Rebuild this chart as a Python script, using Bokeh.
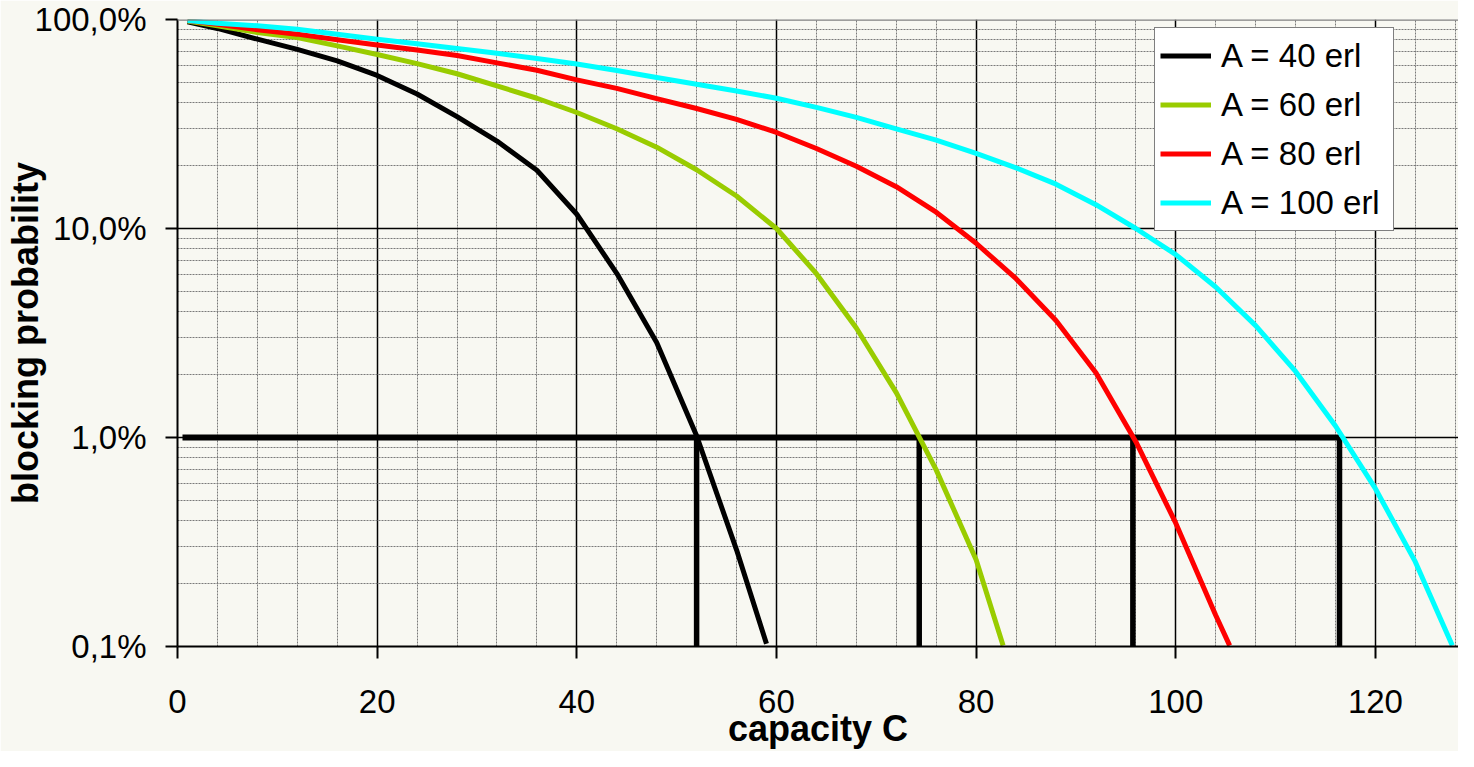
from bokeh.plotting import figure
from bokeh.models import Range1d, FixedTicker, CustomJSTickFormatter, Span
from bokeh.embed import file_html
from bokeh.resources import INLINE

# ---------------- data ----------------
cap_40 = [1, 4, 8, 12, 16, 20, 24, 28, 32, 36, 40, 44, 48, 52, 56, 59]
blk_40 = [0.976, 0.906, 0.805, 0.72, 0.634, 0.54, 0.44, 0.343, 0.262, 0.19,
          0.117, 0.061, 0.0285, 0.0102, 0.0029, 0.00103]

cap_60 = [1, 4, 8, 12, 16, 20, 24, 28, 32, 36, 40, 44, 48, 52, 56, 60, 64,
          68, 72, 76, 80, 82.7]
blk_60 = [0.984, 0.934, 0.866, 0.82, 0.748, 0.68, 0.615, 0.55, 0.481, 0.42,
          0.359, 0.30, 0.245, 0.191, 0.143, 0.100, 0.0608, 0.0334, 0.0164,
          0.0070, 0.0026, 0.00101]

cap_80 = [1, 4, 8, 12, 16, 20, 24, 28, 32, 36, 40, 44, 48, 52, 56, 60, 64,
          68, 72, 76, 80, 84, 88, 92, 96, 100, 104, 105.4]
blk_80 = [0.988, 0.95, 0.893, 0.851, 0.80, 0.755, 0.715, 0.672, 0.62, 0.572,
          0.514, 0.468, 0.418, 0.375, 0.333, 0.288, 0.2415, 0.1986, 0.1585,
          0.1197, 0.085, 0.0575, 0.0363, 0.0204, 0.00955, 0.00389, 0.00141,
          0.00101]

cap_100 = [1, 4, 8, 12, 16, 20, 24, 28, 32, 36, 40, 44, 48, 52, 56, 60, 64,
           68, 72, 76, 80, 84, 88, 92, 96, 100, 104, 108, 112, 116, 120, 124,
           127.7]
blk_100 = [0.99, 0.96, 0.933, 0.899, 0.85, 0.805, 0.765, 0.727, 0.69, 0.65,
           0.612, 0.57, 0.528, 0.49, 0.455, 0.42, 0.38, 0.34, 0.30, 0.265,
           0.229, 0.195, 0.163, 0.13, 0.10, 0.075, 0.0525, 0.0343, 0.0207,
           0.01135, 0.00569, 0.00254, 0.00101]

series_names = ["A = 40 erl", "A = 60 erl", "A = 80 erl", "A = 100 erl"]
series_colors = ["#000000", "#99cc00", "#ff0000", "#00ffff"]

# 1 % grade-of-service guide lines
gos_level = 0.01
gos_start = 0.5
gos_caps = [52.0, 74.3, 95.7, 116.4]
floor_level = 0.001

x_major = [0, 20, 40, 60, 80, 100, 120]
x_minor = [v for v in range(0, 129, 4) if v % 20 != 0]
y_major = [0.001, 0.01, 0.1, 1.0]
y_minor = [k * 10.0 ** e for e in (-3, -2, -1) for k in range(2, 10)]

# ---------------- figure ----------------
BG = "#f8f8f2"
FONT = "Liberation Sans"

p = figure(width=1458, height=751, output_backend="svg", toolbar_location=None,
           y_axis_type="log", x_range=Range1d(0, 128.32),
           y_range=Range1d(0.001, 1.0),
           min_border_left=177, min_border_right=0, min_border_top=19,
           min_border_bottom=105)
p.background_fill_color = BG
p.border_fill_color = BG
p.outline_line_color = None

# axes
p.xaxis.ticker = FixedTicker(ticks=x_major, minor_ticks=x_minor)
p.yaxis.ticker = FixedTicker(ticks=y_major, minor_ticks=y_minor)
p.yaxis.formatter = CustomJSTickFormatter(
    code="return (tick*100).toFixed(1).replace('.', ',') + '%';")
for ax in (p.xaxis, p.yaxis):
    ax.axis_line_color = "black"
    ax.axis_line_width = 2
    ax.major_tick_line_color = "black"
    ax.major_tick_line_width = 2
    ax.major_tick_out = 12
    ax.major_tick_in = 0
    ax.minor_tick_line_color = None
    ax.major_label_text_font = FONT
    ax.major_label_text_font_size = "33px"
    ax.major_label_text_color = "black"
    ax.axis_label_text_font = FONT
    ax.axis_label_text_font_size = "36px"
    ax.axis_label_text_font_style = "bold"
    ax.axis_label_text_color = "black"
p.xaxis.major_label_standoff = 31
p.yaxis.major_label_standoff = 19
p.xaxis.axis_label = "capacity C"
p.yaxis.axis_label = "blocking probability"
p.xaxis.axis_label_standoff = -8
p.yaxis.axis_label_standoff = -14

# grids
for g in (p.xgrid, p.ygrid):
    g.grid_line_color = "black"
    g.grid_line_width = 1.5
    g.minor_grid_line_color = "#7a7a7a"
    g.minor_grid_line_width = 1
    g.minor_grid_line_dash = "2 1"

# top border of plot area
p.add_layout(Span(location=1.0, dimension="width", line_color="#808080",
                  line_width=2.5))

# guide lines at 1 %
p.segment(x0=[gos_start], y0=[gos_level], x1=[gos_caps[-1]], y1=[gos_level],
          line_color="black", line_width=6)
p.segment(x0=gos_caps, y0=[gos_level] * len(gos_caps), x1=gos_caps,
          y1=[floor_level] * len(gos_caps), line_color="black", line_width=5.5)

# curves
all_x = [cap_40, cap_60, cap_80, cap_100]
all_y = [blk_40, blk_60, blk_80, blk_100]
for xs, ys, name, col in zip(all_x, all_y, series_names, series_colors):
    p.line(xs, ys, line_color=col, line_width=5, line_join="round",
           legend_label=name)

# legend
lg = p.legend[0]
lg.location = (977, 415)
lg.border_line_color = "black"
lg.border_line_width = 1.5
lg.background_fill_color = "white"
lg.background_fill_alpha = 1
lg.label_text_font = FONT
lg.label_text_font_size = "33px"
lg.label_text_color = "black"
lg.glyph_width = 51
lg.glyph_height = 45
lg.label_height = 45
lg.label_width = 167
lg.label_standoff = 10
lg.spacing = 4
lg.padding = 5
lg.margin = 0

open("out.html", "w").write(file_html(p, INLINE))
